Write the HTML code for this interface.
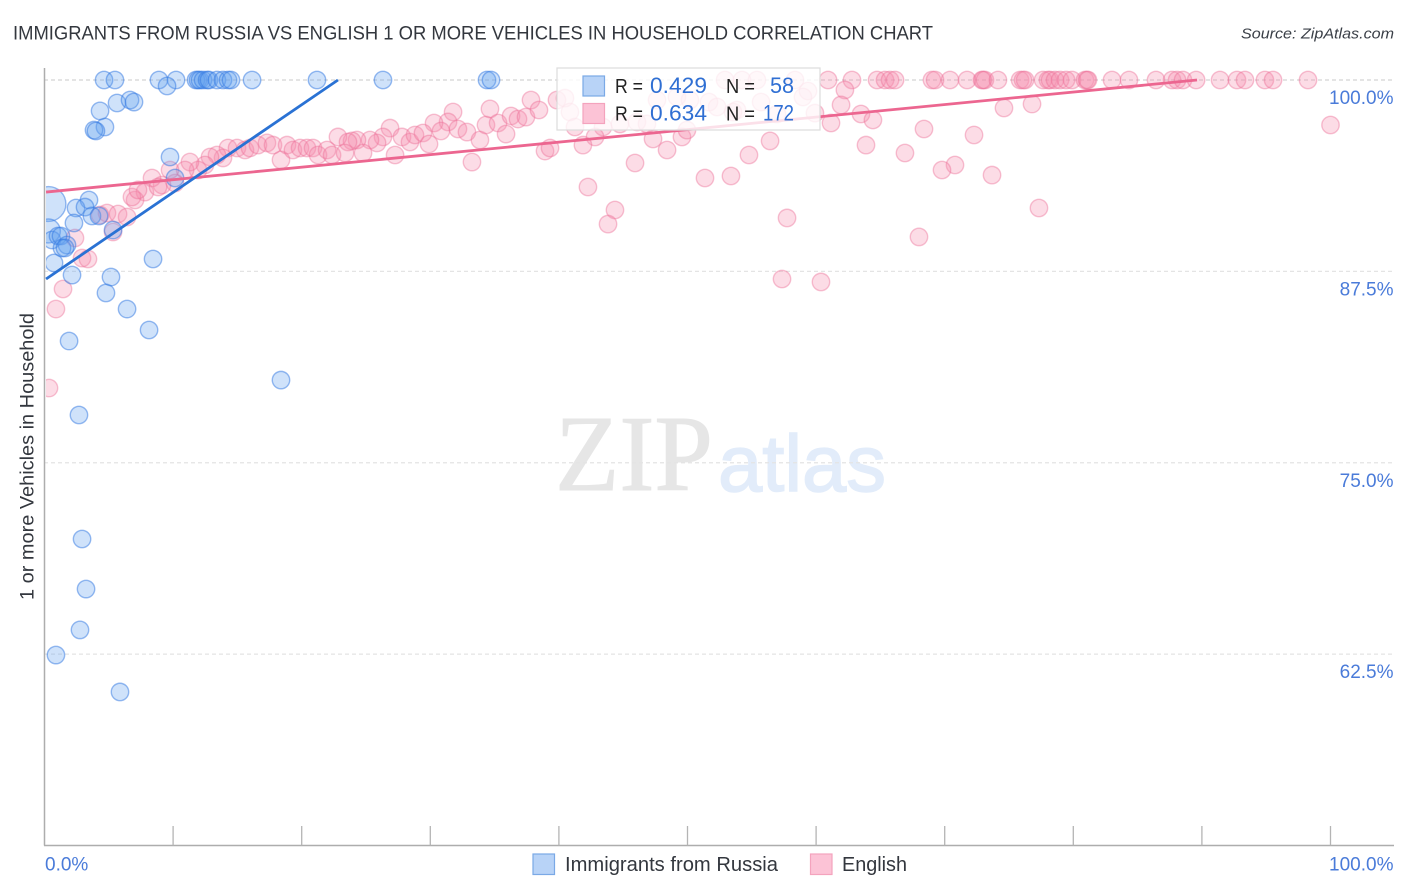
<!DOCTYPE html>
<html>
<head>
<meta charset="utf-8">
<style>
html,body{margin:0;padding:0;background:#fff;}
svg{display:block;}
text{font-family:"Liberation Sans",sans-serif;}
</style>
</head>
<body>
<svg id="chart" width="1406" height="892" viewBox="0 0 1406 892" xmlns="http://www.w3.org/2000/svg">
  <defs><clipPath id="plot-clip"><rect x="46" y="60" width="1348" height="785"/></clipPath></defs>
  <rect x="0" y="0" width="1406" height="892" fill="#fff"/>
  <text x="13" y="39.5" font-size="19.5" fill="#33373e" textLength="920" lengthAdjust="spacingAndGlyphs">IMMIGRANTS FROM RUSSIA VS ENGLISH 1 OR MORE VEHICLES IN HOUSEHOLD CORRELATION CHART</text>
  <text x="1394" y="38.5" font-size="15" font-style="italic" fill="#3a3f47" text-anchor="end" textLength="153" lengthAdjust="spacingAndGlyphs">Source: ZipAtlas.com</text>
  <g>
    <text x="555" y="490" font-size="108" fill="#e6e6e6" stroke="#e6e6e6" stroke-width="1" style="font-family:'Liberation Serif',serif" textLength="158" lengthAdjust="spacingAndGlyphs">ZIP</text>
    <text x="718" y="491" font-size="80" fill="#e2ecfa" stroke="#e2ecfa" stroke-width="1.5" textLength="168" lengthAdjust="spacingAndGlyphs">atlas</text>
  </g>
  <g id="grid"></g>
  <g id="axes"></g>
  <g id="marks" clip-path="url(#plot-clip)"></g>
  <g id="trends"></g>
  <text transform="translate(33.5,600) rotate(-90)" font-size="19" fill="#33373e" textLength="287" lengthAdjust="spacingAndGlyphs">1 or more Vehicles in Household</text>
  <g>
    <rect x="557" y="68" width="263" height="62" fill="#fff" fill-opacity="0.8" stroke="#dcdcdc" stroke-width="1.2"/>
    <rect x="583" y="76" width="21.5" height="20" fill="#b8d3f7" stroke="#7aa9e6" stroke-width="1.2"/>
    <rect x="583" y="103.5" width="21.5" height="20" fill="#fcc3d6" stroke="#f4a3bd" stroke-width="1.2"/>
    <text x="615" y="93" font-size="20" fill="#222" textLength="28" lengthAdjust="spacingAndGlyphs">R =</text>
    <text x="650" y="93" font-size="22" fill="#2f6fd3" textLength="57" lengthAdjust="spacingAndGlyphs">0.429</text>
    <text x="726" y="93" font-size="20" fill="#222" textLength="29" lengthAdjust="spacingAndGlyphs">N =</text>
    <text x="770" y="93" font-size="22" fill="#2f6fd3" textLength="24" lengthAdjust="spacingAndGlyphs">58</text>
    <text x="615" y="120.5" font-size="20" fill="#222" textLength="28" lengthAdjust="spacingAndGlyphs">R =</text>
    <text x="650" y="120.5" font-size="22" fill="#2f6fd3" textLength="57" lengthAdjust="spacingAndGlyphs">0.634</text>
    <text x="726" y="120.5" font-size="20" fill="#222" textLength="29" lengthAdjust="spacingAndGlyphs">N =</text>
    <text x="763" y="120.5" font-size="22" fill="#2f6fd3" textLength="31" lengthAdjust="spacingAndGlyphs">172</text>
  </g>
  <g>
    <g>
      <rect x="533" y="854" width="21.5" height="20.5" fill="#b8d3f7" stroke="#7aa9e6" stroke-width="1.2"/>
      <text x="565" y="871" font-size="20" fill="#33373e" textLength="213" lengthAdjust="spacingAndGlyphs">Immigrants from Russia</text>
    </g>
    <g>
      <rect x="810.5" y="854" width="21.5" height="20.5" fill="#fcc3d6" stroke="#f4a3bd" stroke-width="1.2"/>
      <text x="842" y="871" font-size="20" fill="#33373e" textLength="65" lengthAdjust="spacingAndGlyphs">English</text>
    </g>
  </g>
</svg>
<script>
const xTicks = [0,10,20,30,40,50,60,70,80,90,100];
const yTicks = [100,87.5,75,62.5];
const yTickLabels = ["100.0%","87.5%","75.0%","62.5%"];
const xEndLabels = ["0.0%","100.0%"];

const russiaX = [4.63,5.48,8.90,10.23,11.78,11.94,12.09,12.33,12.64,12.79,13.41,13.88,14.27,14.50,16.14,21.19,26.32,34.41,34.72,
9.53,5.64,6.65,6.96,4.32,4.70,3.85,4.00,9.76,10.15,3.46,2.45,3.15,3.69,4.24,5.33,2.29,
0.31,0.30,0.58,1.05,1.28,1.75,1.36,1.59,0.74,2.14,8.44,5.17,4.78,6.42,8.13,1.91,18.39,2.68,2.92,3.23,2.76,0.89,5.87];
const russiaY = [100,100,100,100,100,100,100,100,100,100,100,100,100,100,100,100,100,100,100,
99.61,98.50,98.69,98.56,97.98,96.93,96.73,96.67,94.97,93.60,92.16,91.64,91.70,91.12,91.12,90.20,90.66,
91.90,90.14,89.55,89.81,89.81,89.22,89.03,89.03,88.05,87.26,88.31,87.13,86.09,85.04,83.67,82.95,80.40,78.12,70.02,66.75,64.08,62.44,60.03];
const russiaSize = [1,1,1,1,1,1,1,1,1,1,1,1,1,1,1,1,1,1,1,
1,1,1,1,1,1,1,1,1,1,1,1,1,1,1,1,1,
4,1.9,1,1,1,1,1,1,1,1,1,1,1,1,1,1,1,1,1,1,1,1,1];

const englishX = [52.92,54.24,55.40,58.36,60.93,62.79,64.74,65.36,65.75,66.14,69.01,69.25,70.41,71.74,72.90,72.98,73.13,74.14,75.86,76.09,76.25,77.65,78.03,78.19,78.58,78.97,79.44,79.90,80.91,81.06,81.14,83.01,84.33,86.43,87.68,88.07,88.53,89.55,91.41,92.73,93.35,94.90,95.53,98.25,
62.24,61.94,59.37,58.98,59.91,61.16,63.49,64.42,56.42,54.78,53.38,51.36,63.88,68.39,66.91,72.28,70.80,69.79,73.68,74.61,76.79,77.33,57.74,68.00,57.35,60.38,51.67,52.30,53.85,55.72,56.96,100.0,
39.85,40.47,40.86,41.25,43.43,42.81,41.87,44.75,46.07,46.85,47.32,48.41,49.57,49.96,47.63,49.18,50.19,53.54,
31.77,31.38,30.29,30.83,32.15,32.85,26.87,26.32,25.86,25.31,24.30,23.91,24.77,27.26,27.80,28.42,28.81,29.43,29.90,33.24,33.86,34.33,34.64,35.27,35.89,36.28,36.82,37.44,37.83,38.45,38.92,39.31,42.26,44.36,43.82,45.92,
22.82,23.60,18.39,14.27,14.97,15.59,15.98,16.60,17.30,17.77,18.86,19.32,19.87,20.41,20.88,21.27,21.97,22.36,23.37,13.88,13.41,12.87,12.48,11.94,11.31,10.93,10.15,9.76,9.14,8.36,7.81,7.04,6.80,7.27,8.83,4.86,4.32,5.72,6.42,5.33,2.37,2.92,3.38,1.44,0.89,0.35];
const englishY = [100,100,100,100,100,100,100,100,100,100,100,100,100,100,100,100,100,100,100,100,100,100,100,100,100,100,100,100,100,100,100,100,100,100,100,100,100,100,100,100,100,100,100,100,
99.35,98.37,99.28,98.89,97.84,97.19,97.78,97.39,96.02,95.10,93.73,93.60,95.75,96.80,95.23,96.41,94.45,94.12,93.79,98.17,98.43,91.64,90.99,89.75,87.00,86.81,98.56,98.24,98.04,98.56,97.78,97.06,
98.69,98.82,97.91,96.93,96.93,96.28,95.75,97.13,97.26,97.13,96.15,95.43,96.28,96.73,98.69,98.89,98.69,97.91,
97.91,97.26,97.19,96.67,96.80,96.60,96.86,96.28,95.89,96.08,96.08,96.02,95.23,95.10,96.28,95.95,96.41,96.54,95.82,94.64,96.08,97.06,98.11,97.19,96.47,97.65,97.45,97.58,98.69,98.04,95.36,95.56,93.01,91.51,90.59,94.58,
96.28,95.95,94.78,95.56,95.56,95.43,95.56,95.75,95.89,95.75,95.75,95.43,95.56,95.56,95.56,95.10,95.43,95.10,95.23,94.91,95.10,94.97,94.45,94.12,94.64,94.12,93.27,94.12,93.14,93.60,92.68,92.16,92.36,92.82,93.01,91.31,91.18,91.25,91.05,90.07,89.68,88.37,88.31,86.35,85.04,79.88];

const russiaTrendX = [0.12,22.82];
const russiaTrendY = [87.0,100];
const englishTrendX = [0.12,89.62];
const englishTrendY = [92.68,100];

const NS = "http://www.w3.org/2000/svg";
const xScale = v => 44.5 + v * 12.86;
const yScale = v => 80 + (100 - v) * 15.31;
const BASE_R = 8.7;

function make(tag, attrs, parent, txt) {
  const el = document.createElementNS(NS, tag);
  for (const k in attrs) el.setAttribute(k, attrs[k]);
  if (txt !== undefined) el.textContent = txt;
  parent.appendChild(el);
  return el;
}

const grid = document.getElementById("grid");
const axes = document.getElementById("axes");
const marks = document.getElementById("marks");
const trends = document.getElementById("trends");

yTicks.forEach((v, i) => {
  const line = make("line", {x1:44, x2:1394, y1:yScale(v), y2:yScale(v), stroke: i === 0 ? "#d4d4d4" : "#e4e4e4", "stroke-width":1.2, "stroke-dasharray":"4 3"}, grid);
  
  
  const label = make("text", {x:1393.5, y:yScale(v) + 24, "font-size":19, fill:"#4a7bd9", "text-anchor":"end"}, axes, yTickLabels[i]);
  
  
});

const yAxis = make("line", {x1:44.5, x2:44.5, y1:68, y2:845.5, stroke:"#adadad", "stroke-width":1.5}, axes);


const xAxis = make("line", {x1:44, x2:1394, y1:845.5, y2:845.5, stroke:"#adadad", "stroke-width":1.5}, axes);



xTicks.forEach(v => {
  if (v === 0) return;
  const tick = make("line", {x1:xScale(v), x2:xScale(v), y1:826, y2:845.5, stroke:"#b4b4b4", "stroke-width":1.3}, axes);
  
  
});

const x0Label = make("text", {x:45, y:870.5, "font-size":19, fill:"#4a7bd9"}, axes, xEndLabels[0]);


const x1Label = make("text", {x:1393.5, y:870.5, "font-size":19, fill:"#4a7bd9", "text-anchor":"end"}, axes, xEndLabels[1]);



englishX.forEach((v, i) => {
  const dot = make("circle", {cx:xScale(v), cy:yScale(englishY[i]), r:BASE_R, fill:"rgba(245,140,172,0.3)", stroke:"rgba(236,110,150,0.42)", "stroke-width":1.4}, marks);
  
  
});

russiaX.forEach((v, i) => {
  const dot = make("circle", {cx:xScale(v), cy:yScale(russiaY[i]), r:BASE_R * Math.sqrt(russiaSize[i]), fill:"rgba(97,158,240,0.3)", stroke:"rgba(50,120,225,0.5)", "stroke-width":1.4}, marks);
  
  
});

const englishLine = make("line", {x1:xScale(englishTrendX[0]), y1:yScale(englishTrendY[0]), x2:xScale(englishTrendX[1]), y2:yScale(englishTrendY[1]), stroke:"#ec6690", "stroke-width":2.8}, trends);


const russiaLine = make("line", {x1:xScale(russiaTrendX[0]), y1:yScale(russiaTrendY[0]), x2:xScale(russiaTrendX[1]), y2:yScale(russiaTrendY[1]), stroke:"#2a72d4", "stroke-width":2.8}, trends);


</script>
</body>
</html>
